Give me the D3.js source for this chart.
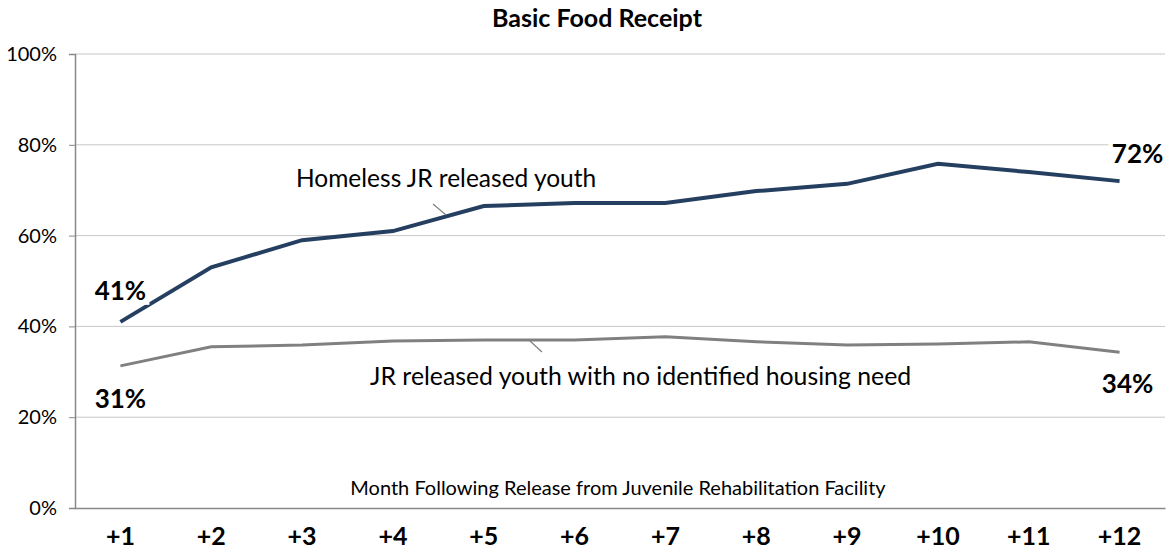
<!DOCTYPE html>
<html>
<head>
<meta charset="utf-8">
<style>
  body { margin: 0; background: #fff; }
  svg text { font-family: Lato, "Open Sans", sans-serif; }
</style>
<script src="https://cdn.jsdelivr.net/npm/d3@7"></script>
</head>
<body>
<script>
// data
var months = ["+1", "+2", "+3", "+4", "+5", "+6", "+7", "+8", "+9", "+10", "+11", "+12"];
var homeless = [41, 53, 59, 61, 66.5, 67.2, 67.2, 69.8, 71.4, 75.8, 74, 72];
var noNeed = [31.3, 35.5, 35.9, 36.8, 37, 37, 37.7, 36.6, 35.9, 36.1, 36.6, 34.3];
var yTicks = [0, 20, 40, 60, 80, 100];

var W = 1171, H = 550;
var margin = {top: 54, right: 6, bottom: 42, left: 75};
var width = W - margin.left - margin.right;
var height = H - margin.top - margin.bottom;

var svg = d3.select("body").append("svg")
    .attr("width", W)
    .attr("height", H);

var x = d3.scaleBand().domain(months).range([0, width]);
var y = d3.scaleLinear().domain([0, 100]).range([height, 0]);

var g = svg.append("g")
    .attr("transform", "translate(" + margin.left + "," + margin.top + ")");

// gridlines
g.selectAll(".grid").data(yTicks.slice(1))
  .enter().append("line")
    .attr("x1", 0).attr("x2", width)
    .attr("y1", function(d) { return y(d); })
    .attr("y2", function(d) { return y(d); })
    .style("stroke", "#c8c8c8")
    .style("stroke-width", 1);

// y axis
var yAxis = g.append("g")
    .call(d3.axisLeft(y).tickValues(yTicks).tickSize(6).tickPadding(12)
      .tickFormat(function(d) { return d + "%"; }));
yAxis.select(".domain").style("stroke", "#888").style("stroke-width", 1.5);
yAxis.selectAll(".tick line").style("stroke", "#888");
yAxis.selectAll("text").style("font-size", "20px").style("fill", "#000");

// x axis
var xAxis = g.append("g")
    .attr("transform", "translate(0," + height + ")")
    .call(d3.axisBottom(x).tickSize(0).tickPadding(19));
xAxis.select(".domain").style("stroke", "#888").style("stroke-width", 1.5);
xAxis.selectAll("text").style("font-size", "25px").style("font-weight", "bold").style("fill", "#000");

// title
svg.append("text")
    .attr("x", 597).attr("y", 27)
    .attr("text-anchor", "middle")
    .style("font-size", "25px").style("font-weight", "bold")
    .text("Basic Food Receipt");

// axis title inside the plot
g.append("text")
    .attr("x", 618 - margin.left).attr("y", height - 13)
    .attr("text-anchor", "middle")
    .style("font-size", "20px")
    .text("Month Following Release from Juvenile Rehabilitation Facility");

var line = d3.line()
    .x(function(d, i) { return x(months[i]) + x.bandwidth() / 2; })
    .y(function(d) { return y(d); });

g.append("path").datum(noNeed)
    .attr("d", line)
    .style("fill", "none").style("stroke", "#808080").style("stroke-width", 3);

g.append("path").datum(homeless)
    .attr("d", line)
    .style("fill", "none").style("stroke", "#243f60").style("stroke-width", 4);

// series labels with leader lines
svg.append("text")
    .attr("x", 296).attr("y", 187)
    .style("font-size", "24.5px")
    .text("Homeless JR released youth");
svg.append("line")
    .attr("x1", 433).attr("y1", 204).attr("x2", 446).attr("y2", 215)
    .style("stroke", "#808080").style("stroke-width", 1.2);

svg.append("text")
    .attr("x", 370).attr("y", 385)
    .style("font-size", "24.8px")
    .text("JR released youth with no identified housing need");
svg.append("line")
    .attr("x1", 530).attr("y1", 341).attr("x2", 542).attr("y2", 352)
    .style("stroke", "#808080").style("stroke-width", 1.2);

// end point value labels
function valueLabel(series, i, dx, dy) {
  var cx = margin.left + x(months[i]) + x.bandwidth() / 2 + dx;
  var cy = margin.top + y(series[i]) + dy;
  svg.append("rect")
      .attr("x", cx - 29).attr("y", cy - 15)
      .attr("width", 58).attr("height", 30)
      .style("fill", "#fff");
  svg.append("text")
      .attr("x", cx).attr("y", cy)
      .attr("text-anchor", "middle")
      .attr("dominant-baseline", "central")
      .style("font-size", "26px").style("font-weight", "bold")
      .text(Math.round(series[i]) + "%");
}
valueLabel(homeless, 0, 0, -32);
valueLabel(noNeed, 0, 0, 32);
valueLabel(homeless, 11, 18, -28);
valueLabel(noNeed, 11, 8, 31);
</script>
</body>
</html>
